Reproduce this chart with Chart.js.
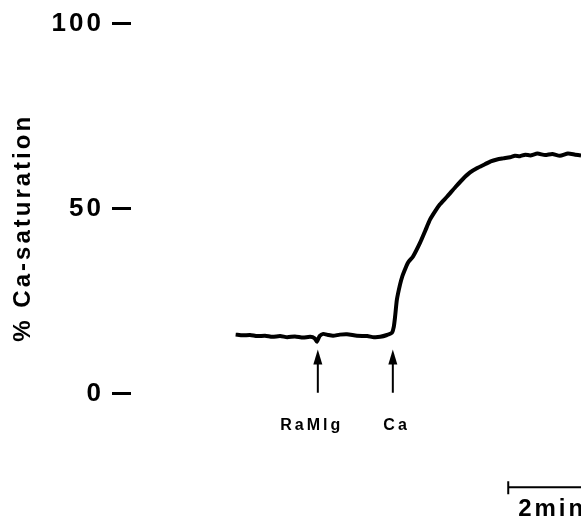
<!DOCTYPE html>
<html>
  <head>
    <title>% Ca-saturation trace</title>
    <script src="https://cdn.jsdelivr.net/npm/chart.js"></script>
    <style>
      html, body {
        margin: 0;
        padding: 0;
        background: #fff;
      }
      .chart-box {
        width: 581px;
        height: 520px;
      }
    </style>
  </head>
  <body>
    <div class="chart-box">
      <canvas id="chart"></canvas>
    </div>
    <script>
      // time in minutes, value in % Ca-saturation
      const times = [0.0, 0.16, 0.32, 0.48, 0.655, 0.82, 0.99, 1.15, 1.32, 1.5, 1.66, 1.76, 1.81, 1.87, 1.95,
        2.06, 2.17, 2.32, 2.48, 2.7, 2.93, 3.08, 3.22, 3.37, 3.48, 3.52, 3.55, 3.59, 3.66, 3.71, 3.75,
        3.84, 3.95, 4.11, 4.22, 4.33, 4.44, 4.55, 4.71, 4.89, 5.05, 5.22, 5.38, 5.55, 5.68, 5.82, 5.96,
        6.11, 6.22, 6.33, 6.45, 6.56, 6.72, 6.89, 7.05, 7.22, 7.4, 7.56, 7.69];
      const saturation = [16.0, 15.8, 15.9, 15.6, 15.7, 15.4, 15.6, 15.3, 15.5, 15.2, 15.4, 15.0, 14.1, 15.6, 16.2,
        15.9, 15.7, 16.0, 16.1, 15.7, 15.6, 15.3, 15.4, 15.9, 16.5, 18.0, 20.8, 25.4, 29.5, 31.7, 33.0,
        35.5, 37.1, 40.9, 44.0, 47.1, 49.3, 51.2, 53.3, 55.8, 57.9, 59.8, 61.0, 62.0, 62.8, 63.3, 63.6,
        63.9, 64.3, 64.2, 64.6, 64.4, 64.9, 64.5, 64.8, 64.3, 64.9, 64.6, 64.4];

      const yTicks = [0, 50, 100];

      const arrowTimes = [1.83, 3.5];
      const arrowLabels = ['RaMlg', 'Ca'];
      const labelTimes = [1.66, 3.55];

      const scaleBarStart = 6.07;
      const scaleBarLength = 2;
      const scaleBarText = '2min';

      const fontFamily = '"Liberation Sans", Arial, Helvetica, sans-serif';

      const spacingPlugin = {
        id: 'spacing',
        beforeDraw(chart) {
          chart.ctx.letterSpacing = '3px';
        }
      };

      // arrows, their labels and the time scale bar
      const notesPlugin = {
        id: 'notes',
        afterDraw(chart) {
          const ctx = chart.ctx;
          const xs = chart.scales.x;
          const ys = chart.scales.y;
          ctx.save();
          ctx.letterSpacing = '3px';
          ctx.strokeStyle = '#000';
          ctx.fillStyle = '#000';

          arrowTimes.forEach(function (t) {
            const x = xs.getPixelForValue(t);
            const tip = ys.getPixelForValue(12);
            const tail = ys.getPixelForValue(0.3);
            ctx.lineWidth = 2;
            ctx.beginPath();
            ctx.moveTo(x, tip + 8);
            ctx.lineTo(x, tail);
            ctx.stroke();
            ctx.beginPath();
            ctx.moveTo(x, tip);
            ctx.lineTo(x - 4.5, tip + 15);
            ctx.lineTo(x + 4.5, tip + 15);
            ctx.closePath();
            ctx.fill();
          });

          ctx.font = 'bold 16px ' + fontFamily;
          ctx.textAlign = 'center';
          ctx.textBaseline = 'alphabetic';
          arrowLabels.forEach(function (txt, i) {
            ctx.fillText(txt, xs.getPixelForValue(labelTimes[i]) + 1.5, ys.getPixelForValue(-8.4) + 5);
          });

          const bx0 = xs.getPixelForValue(scaleBarStart);
          const bx1 = xs.getPixelForValue(scaleBarStart + scaleBarLength);
          const by = ys.getPixelForValue(-25.2);
          ctx.lineWidth = 2;
          ctx.beginPath();
          ctx.moveTo(bx0, by);
          ctx.lineTo(bx1, by);
          ctx.moveTo(bx0, by - 6);
          ctx.lineTo(bx0, by + 7);
          ctx.stroke();

          ctx.font = 'bold 24px ' + fontFamily;
          ctx.textAlign = 'left';
          ctx.textBaseline = 'middle';
          ctx.fillText(scaleBarText, xs.getPixelForValue(6.29), ys.getPixelForValue(-31.1));
          ctx.restore();
        }
      };

      const points = times.map(function (t, i) {
        return { x: t, y: saturation[i] };
      });

      new Chart(document.getElementById('chart'), {
        type: 'line',
        data: {
          datasets: [{
            data: points,
            borderColor: '#000',
            borderWidth: 4,
            pointRadius: 0,
            tension: 0.2,
            fill: false
          }]
        },
        options: {
          responsive: true,
          maintainAspectRatio: false,
          animation: false,
          layout: {
            padding: { top: 0, right: 0, bottom: 88, left: 0 }
          },
          plugins: {
            legend: { display: false },
            tooltip: { enabled: false }
          },
          scales: {
            x: {
              type: 'linear',
              display: false,
              min: -2.33,
              max: 7.69
            },
            y: {
              type: 'linear',
              min: -10.3,
              max: 100,
              afterFit: function (axis) {
                axis.width = 131;
              },
              afterBuildTicks: function (axis) {
                axis.ticks = yTicks.map(function (v) { return { value: v }; });
              },
              border: { display: false },
              grid: {
                display: true,
                drawOnChartArea: false,
                drawTicks: true,
                tickLength: 19,
                tickWidth: 3,
                tickColor: '#000'
              },
              ticks: {
                color: '#000',
                padding: 8,
                font: { family: fontFamily, size: 26, weight: 'bold' }
              },
              title: {
                display: true,
                text: '% Ca-saturation',
                color: '#000',
                padding: { top: 9, bottom: 0 },
                font: { family: fontFamily, size: 24, weight: 'bold' }
              }
            }
          }
        },
        plugins: [spacingPlugin, notesPlugin]
      });
    </script>
  </body>
</html>
